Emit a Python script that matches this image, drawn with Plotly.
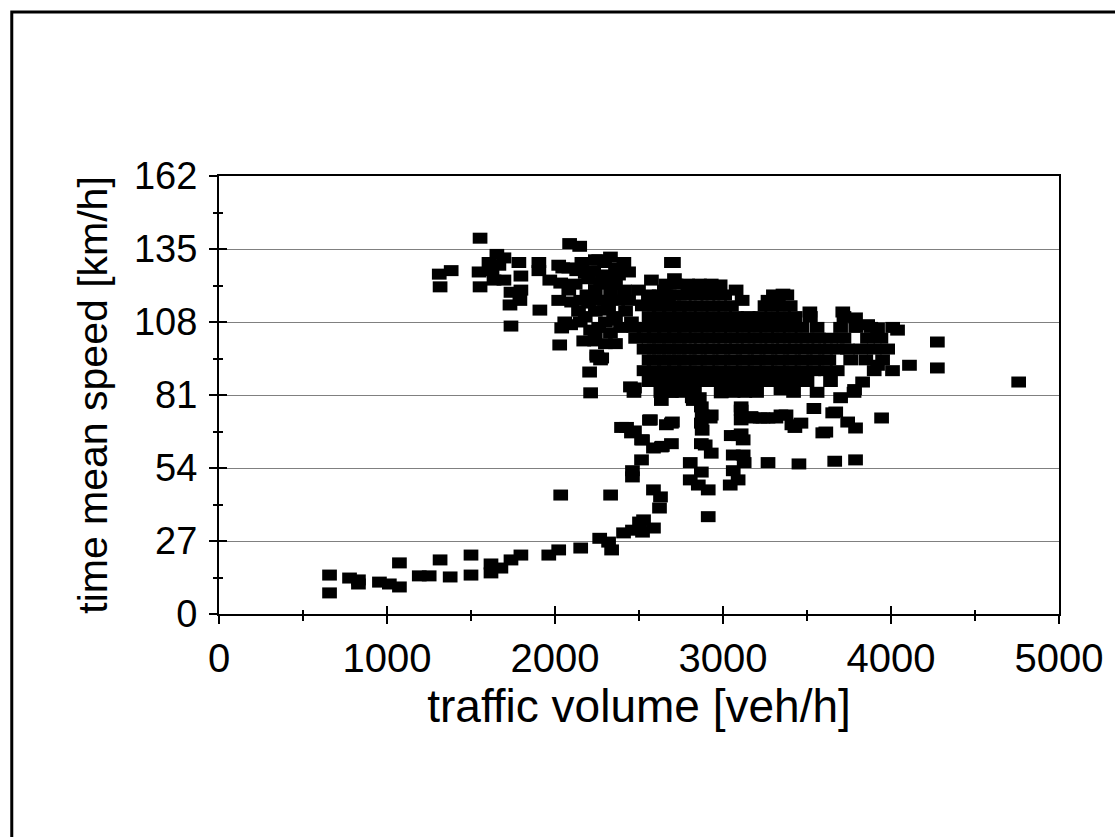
import plotly.graph_objects as go

# ---- data ----
# congested branch (low speeds)
low_x = [658, 658, 777, 830, 830, 955, 1014, 1074, 1074, 1192, 1251, 1316, 1376, 1500, 1500,
         1619, 1619, 1678, 1738, 1797, 1963, 2022, 2034, 2153, 2266, 2319, 2337, 2331, 2408,
         2461, 2503, 2521, 2586, 2527, 2586, 2628, 2622]
low_y = [14.4, 7.8, 13.3, 12.6, 11.1, 11.8, 11.1, 10.0, 18.9, 14.1, 14.1, 20.0, 13.7, 21.8, 14.4,
         18.5, 15.2, 17.0, 20.0, 21.8, 21.8, 23.7, 44.0, 24.4, 28.0, 26.6, 23.7, 44.0, 30.0,
         31.0, 34.0, 30.3, 31.8, 34.8, 45.9, 43.3, 39.2]

# transition points (medium speeds)
mid_x = [2461, 2461, 2515, 2521, 2586, 2639, 2693, 2426, 2473, 2562, 2663, 2699, 2473, 2805,
         2805, 2853, 2871, 2894, 2876, 2876, 2924, 2859, 2912, 2930, 2912, 2817, 3043, 3061,
         3090, 3061, 3120, 3126, 3090, 3108, 3120, 3126, 3173, 3221, 3268, 3315, 3375, 3464,
         3410, 3268, 3452, 3541, 3612, 3671, 3742, 3789, 3789, 3944, 3665, 2633, 2693, 2823,
         2871, 3108, 3108, 3238, 3345, 3428, 3594, 3653, 2989, 3345, 3700, 3783, 3831, 2396,
         2455, 2515, 2568, 2693, 2633, 2871, 2871, 2930, 3049, 3108, 3167, 2212]
mid_y = [50.7, 53.0, 57.0, 64.4, 61.4, 62.0, 63.0, 69.0, 67.7, 71.7, 70.0, 71.0, 83.6, 56.0,
         49.6, 47.7, 52.5, 62.5, 68.0, 73.6, 72.5, 80.0, 45.9, 59.5, 36.0, 80.0, 47.7, 53.0,
         49.6, 58.8, 58.8, 56.0, 66.0, 75.4, 64.4, 83.6, 72.5, 72.5, 72.5, 72.5, 73.6, 70.6,
         70.0, 56.0, 55.5, 76.0, 67.3, 74.7, 71.0, 68.8, 57.0, 72.5, 56.5, 79.0, 82.0, 79.0,
         76.6, 76.6, 71.8, 72.5, 73.6, 69.0, 67.0, 74.4, 81.8, 83.0, 80.0, 83.0, 85.8, 69.0,
         67.0, 64.4, 71.8, 70.6, 61.8, 70.6, 63.0, 73.6, 66.0, 66.6, 73.0, 81.8]

# free-flow points (high speeds, low to medium volume)
free_x = [1311, 1316, 1382, 1554, 1548, 1554, 1607, 1625, 1637, 1654, 1666, 1696, 1696, 1738,
          1732, 1738, 1785, 1797, 1797, 1791, 1904, 1904, 1910, 1969, 2028, 2022, 2058, 2040,
          2087, 2147, 2034, 2046, 2022, 2082, 2129, 2082, 2099, 2093, 2153, 2171, 2212, 2236,
          2248, 2206, 2260, 2272, 2283, 2295, 2307, 2295, 2319, 2278, 2331, 2349, 2373, 2378,
          2438, 2414, 2438, 2455, 2497, 2521, 2556, 2574, 2592, 2616, 2705, 2711, 2651, 2675,
          2180, 2240, 2240, 2200, 2150, 2120, 2330, 2390, 2260, 2360, 2420, 2140, 2190, 2300,
          2230, 2160, 2271, 2449, 2180, 2240, 2300, 2360, 2360, 2300, 2240, 2200, 2360, 2410,
          2330, 2270, 2250]
free_y = [125.7, 121.0, 127.0, 139.0, 126.5, 121.0, 130.0, 127.0, 123.5, 133.0, 129.0, 131.7, 123.5, 119.0,
          114.3, 106.5, 130.0, 125.0, 119.8, 116.0, 130.0, 127.0, 112.4, 123.5, 99.5, 116.0, 108.0, 105.8,
          137.0, 136.0, 122.4, 128.0, 129.0, 128.0, 127.0, 119.8, 115.4, 107.0, 116.0, 101.0, 105.0, 101.0,
          95.8, 89.5, 131.0, 122.4, 125.0, 130.0, 125.4, 116.0, 112.4, 94.7, 119.8, 108.7, 116.0, 125.4,
          126.5, 119.8, 116.0, 108.0, 119.8, 114.3, 116.0, 123.5, 108.7, 116.0, 130.0, 124.0, 119.8, 116.0,
          110.0, 112.0, 120.0, 124.0, 108.0, 122.0, 104.0, 106.0, 106.0, 100.0, 112.0, 112.0, 118.0, 100.0,
          127.0, 130.0, 94.0, 84.0, 126.0, 131.0, 122.0, 122.0, 128.0, 108.0, 104.0, 115.0, 110.0, 130.0,
          132.0, 116.0, 95.0]

# saturated core (high volume, 80-125 km/h)
core_x = [2470, 2630, 2690, 2760, 2830, 2990, 3060, 3130, 3200, 3420, 3560, 3780,
          2560, 2620, 2680, 2740, 2800, 2870, 2940, 3010, 3080, 3150, 3220, 3290, 3360, 3430, 3500, 3640,
          2530, 2590, 2650, 2710, 2770, 2840, 2910, 2980, 3050, 3120, 3190, 3260, 3330, 3400, 3470, 3540, 3610, 3680, 3900,
          2560, 2620, 2680, 2740, 2800, 2860, 2930, 3000, 3070, 3140, 3210, 3280, 3350, 3420, 3490, 3560, 3630, 3760, 3850, 3950,
          2530, 2590, 2650, 2710, 2770, 2840, 2910, 2980, 3050, 3120, 3190, 3260, 3330, 3400, 3470, 3540, 3610, 3680, 3740, 3820, 3900, 3980,
          2480, 2560, 2620, 2680, 2740, 2800, 2870, 2940, 3010, 3080, 3150, 3220, 3290, 3360, 3430, 3500, 3570, 3640, 3720, 3860, 3940,
          2470, 2530, 2590, 2650, 2710, 2770, 2840, 2910, 2980, 3050, 3120, 3190, 3260, 3330, 3400, 3470, 3560, 3700, 3790, 3880, 4010,
          2560, 2620, 2680, 2740, 2800, 2870, 2940, 3010, 3080, 3150, 3220, 3290, 3360, 3430, 3520, 3720,
          2520, 2590, 2650, 2710, 2770, 2840, 2910, 2980, 3050, 3250, 3330, 3400,
          2560, 2620, 2680, 2740, 2800, 2870, 2940, 3010, 3300, 3380,
          2660, 2720, 2790, 2860, 2930,
          2794, 2853, 2924, 2983, 3078, 3114, 3268, 3327, 3357, 3517, 3713, 3789, 3861, 3920, 4039,
          4276, 4276, 4110, 4009, 3920, 4760, 2693]
core_y = [82, 82, 82, 82, 82, 82, 82, 82, 82, 82, 82, 82,
          86, 86, 86, 86, 86, 86, 86, 86, 86, 86, 86, 86, 86, 86, 86, 86,
          90, 90, 90, 90, 90, 90, 90, 90, 90, 90, 90, 90, 90, 90, 90, 90, 90, 90, 90,
          94, 94, 94, 94, 94, 94, 94, 94, 94, 94, 94, 94, 94, 94, 94, 94, 94, 94, 94, 94,
          98, 98, 98, 98, 98, 98, 98, 98, 98, 98, 98, 98, 98, 98, 98, 98, 98, 98, 98, 98, 98, 98,
          102, 102, 102, 102, 102, 102, 102, 102, 102, 102, 102, 102, 102, 102, 102, 102, 102, 102, 102, 102, 102,
          106, 106, 106, 106, 106, 106, 106, 106, 106, 106, 106, 106, 106, 106, 106, 106, 106, 106, 106, 106, 106,
          110, 110, 110, 110, 110, 110, 110, 110, 110, 110, 110, 110, 110, 110, 110, 110,
          114, 114, 114, 114, 114, 114, 114, 114, 114, 114, 114, 114,
          118, 118, 118, 118, 118, 118, 118, 118, 118, 118,
          122, 122, 122, 122, 122,
          121.7, 121.7, 121.7, 121.7, 119.8, 116.0, 116.0, 116.0, 118.3, 111.7, 111.7, 109.5, 107.0, 105.8, 105.0,
          100.6, 91.0, 92.0, 90.0, 92.0, 85.8, 130.0]

x_ticks = [0, 1000, 2000, 3000, 4000, 5000]
y_ticks = [0, 27, 54, 81, 108, 135, 162]

all_x = low_x + mid_x + free_x + core_x
all_y = low_y + mid_y + free_y + core_y

FONT = "Liberation Sans, Arial, sans-serif"

fig = go.Figure()
fig.add_trace(go.Scatter(
    x=all_x, y=all_y, mode="markers",
    marker=dict(symbol="line-ew", size=10.5, color="black",
                line=dict(color="black", width=11)),
    showlegend=False, hoverinfo="skip"))
# empty trace to carry the inner-tick overlay axes
fig.add_trace(go.Scatter(x=[], y=[], xaxis="x2", yaxis="y2", showlegend=False))

fig.update_layout(
    width=1115, height=837,
    margin=dict(l=219, r=53, t=176, b=223),
    paper_bgcolor="white", plot_bgcolor="white",
    font=dict(family=FONT, color="black"),
    xaxis=dict(range=[0, 5000], tickvals=x_ticks, ticktext=[str(v) for v in x_ticks],
               ticks="outside", ticklen=8, tickwidth=2, tickcolor="black",
               minor=dict(dtick=500, ticks="outside", ticklen=5, tickwidth=2, tickcolor="black"),
               showline=True, linecolor="black", linewidth=2, mirror=True,
               showgrid=False, zeroline=False,
               tickfont=dict(size=40, family=FONT),
               title=dict(text="traffic volume [veh/h]", font=dict(size=46, family=FONT), standoff=4)),
    yaxis=dict(range=[0, 162], tickvals=y_ticks, ticktext=[str(v) for v in y_ticks],
               ticks="outside", ticklen=8, tickwidth=2, tickcolor="black",
               minor=dict(dtick=13.5, ticks="outside", ticklen=4, tickwidth=2, tickcolor="black",
                          showgrid=False),
               showline=True, linecolor="black", linewidth=2, mirror=True,
               showgrid=True, gridcolor="#808080", gridwidth=1, zeroline=False,
               tickfont=dict(size=38, family=FONT), ticklabelstandoff=4,
               title=dict(text="time mean speed [km/h]", font=dict(size=41, family=FONT), standoff=14)),
    xaxis2=dict(range=[0, 5000], overlaying="x", anchor="y", side="bottom",
                tickvals=x_ticks, showticklabels=False,
                ticks="inside", ticklen=8, tickwidth=2, tickcolor="black",
                minor=dict(dtick=500, ticks="inside", ticklen=4, tickwidth=2, tickcolor="black"),
                showline=False, showgrid=False, zeroline=False),
    yaxis2=dict(range=[0, 162], overlaying="y", anchor="x", side="left",
                tickvals=y_ticks, showticklabels=False,
                ticks="inside", ticklen=8, tickwidth=2, tickcolor="black",
                minor=dict(dtick=13.5, ticks="inside", ticklen=4, tickwidth=2, tickcolor="black"),
                showline=False, showgrid=False, zeroline=False),
    shapes=[dict(type="rect", xref="paper", yref="paper",
                 x0=-0.2467, x1=1.2, y0=-0.6, y1=1.3744,
                 line=dict(color="black", width=3), fillcolor="rgba(0,0,0,0)", layer="below")],
)

fig.write_html("out.html")
